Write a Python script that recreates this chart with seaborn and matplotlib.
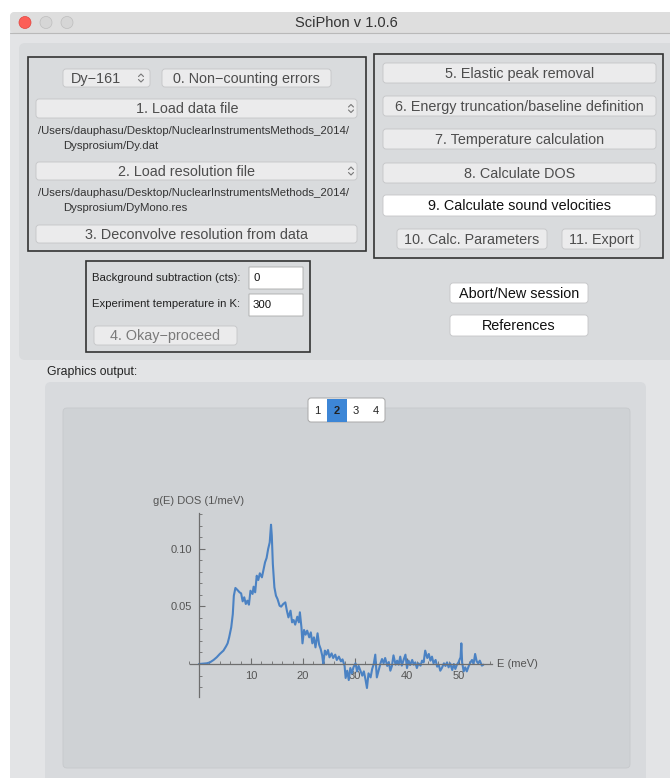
import matplotlib.pyplot as plt
from matplotlib.patches import FancyBboxPatch, Circle
from matplotlib.ticker import MultipleLocator
import seaborn as sns

# ---------------------------------------------------------------
# data (E in meV, g(E) in 1/meV)
# ---------------------------------------------------------------
energy = [0.0, 1.5, 2.1, 2.8, 3.4, 4.0, 4.7, 5.2, 5.5, 5.8,
          6.2, 6.5, 6.7, 7.0, 7.4, 7.8, 8.1, 8.4, 8.7, 9.0,
          9.3, 9.6, 9.9, 10.3, 10.5, 10.8, 11.1, 11.4, 11.7, 12.1,
          12.4, 12.7, 13.0, 13.3, 13.6, 13.85, 14.0, 14.2, 14.5, 14.8,
          15.1, 15.5, 15.8, 16.2, 16.6, 16.9, 17.2, 17.6, 17.9, 18.2,
          18.5, 18.9, 19.2, 19.4, 19.7, 19.9, 20.2, 20.5, 20.8, 21.2,
          21.5, 21.8, 22.1, 22.4, 22.8, 23.1, 23.4, 23.7, 23.9, 24.2,
          24.5, 24.8, 25.1, 25.5, 25.8, 26.2, 26.5, 26.9, 27.3, 27.6,
          28.0, 28.2, 28.5, 28.8, 29.1, 29.4, 29.7, 30.1, 30.4, 30.7,
          31.0, 31.4, 31.7, 32.0, 32.3, 32.6, 33.0, 33.3, 33.6, 33.9,
          34.2, 34.6, 34.9, 35.2, 35.5, 35.8, 36.2, 36.5, 36.8, 37.1,
          37.4, 37.8, 38.1, 38.4, 38.7, 39.0, 39.4, 39.7, 40.0, 40.3,
          40.6, 41.0, 41.3, 41.6, 41.9, 42.2, 42.6, 42.9, 43.2, 43.5,
          43.9, 44.2, 44.5, 44.8, 45.1, 45.5, 45.8, 46.1, 46.4, 46.7,
          47.1, 47.4, 47.7, 48.0, 48.3, 48.7, 49.0, 49.3, 49.6, 49.9,
          50.3, 50.45, 50.6, 50.9, 51.2, 51.5, 51.9, 52.2, 52.5, 52.8,
          53.1, 53.4, 53.7, 54.0, 54.4, 54.7]
dos = [0.0, 0.0006, 0.0014, 0.0035, 0.0058, 0.0087, 0.0116, 0.0153, 0.0179, 0.0231,
       0.0318, 0.0433, 0.0592, 0.0659, 0.0641, 0.0621, 0.0612, 0.0543, 0.0578, 0.0520,
       0.0549, 0.0514, 0.0635, 0.0607, 0.0670, 0.0621, 0.0765, 0.0728, 0.0786, 0.0751,
       0.0815, 0.0881, 0.0919, 0.0997, 0.1054, 0.1207, 0.1112, 0.0867, 0.0664, 0.0592,
       0.0563, 0.0505, 0.0497, 0.0520, 0.0534, 0.0462, 0.0404, 0.0462, 0.0361, 0.0381,
       0.0341, 0.0410, 0.0361, 0.0448, 0.0318, 0.0179, 0.0295, 0.0254, 0.0289, 0.0231,
       0.0274, 0.0179, 0.0231, 0.0144, 0.0266, 0.0168, 0.0130, 0.0072, 0.0, 0.0116,
       0.0081, 0.0121, 0.0058, 0.0092, 0.0052, 0.0081, 0.0035, 0.0064, 0.0023, 0.0040,
       -0.0017, -0.0121, -0.0058, -0.0139, -0.0035, -0.0081, -0.0029, 0.0006, -0.0064, -0.0017,
       -0.0052, -0.0101, -0.0064, -0.0130, -0.0208, -0.0081, -0.0116, -0.0043, 0.0, 0.0081,
       -0.0116, -0.0046, 0.0006, 0.0043, 0.0006, 0.0052, -0.0017, 0.0017, -0.0058, -0.0017,
       0.0075, -0.0006, 0.0029, -0.0006, 0.0064, -0.0014, 0.0043, 0.0081, -0.0035, 0.0029,
       -0.0009, 0.0035, -0.0006, 0.0014, -0.0035, 0.0006, -0.0014, 0.0029, 0.0014, 0.0116,
       0.0052, 0.0087, 0.0029, 0.0064, 0.0006, 0.0035, -0.0023, -0.0006, -0.0058, -0.0035,
       0.0006, -0.0017, 0.0014, -0.0029, 0.0006, -0.0052, 0.0, -0.0043, -0.0006, 0.0014,
       0.0058, 0.0179, 0.0014, -0.0064, -0.0029, -0.0064, -0.0014, 0.0014, 0.0035, 0.0,
       0.0087, 0.0023, 0.0006, 0.0029, -0.0014, -0.0006]

x_ticks = [10, 20, 30, 40, 50]
y_ticks = [0.05, 0.10]
y_tick_labels = ["0.05", "0.10"]
tab_labels = ["1", "2", "3", "4"]

left_buttons = ["0. Non\u2212counting errors", "1. Load data file", "2. Load resolution file",
                "3. Deconvolve resolution from data"]
right_buttons = ["5. Elastic peak removal", "6. Energy truncation/baseline definition",
                 "7. Temperature calculation", "8. Calculate DOS", "9. Calculate sound velocities"]
path_root = "/Users/dauphasu/Desktop/NuclearInstrumentsMethods_2014/"
data_file = "Dysprosium/Dy.dat"
res_file = "Dysprosium/DyMono.res"

# ---------------------------------------------------------------
# style
# ---------------------------------------------------------------
W, H = 670, 778
sns.set_theme(style="white")
plt.rcParams["font.family"] = ["Liberation Sans", "DejaVu Sans"]

fig = plt.figure(figsize=(W / 100, H / 100), dpi=100)
fig.patch.set_facecolor("white")

# background axes in pixel units, y pointing down
bg = fig.add_axes([0, 0, 1, 1])
bg.set_xlim(0, W)
bg.set_ylim(H, 0)
bg.axis("off")

BTN = "#ebebec"
BTN_EDGE = "#c4c5c7"
TXT = "#4d4d4d"
BTN_SIZE = 10.4
SMALL = 8.2


def rbox(x0, y0, x1, y1, fc, ec="none", lw=0.8, r=3, z=1):
    bg.add_patch(FancyBboxPatch((x0, y0), x1 - x0, y1 - y0,
                                boxstyle=f"round,pad=0,rounding_size={r}",
                                fc=fc, ec=ec, lw=lw, zorder=z))


def button(x0, y0, x1, y1, label, fc=BTN, color=TXT, cx=None, size=BTN_SIZE):
    rbox(x0, y0, x1, y1, fc, ec=BTN_EDGE, lw=0.6, r=3, z=3)
    if cx is None:
        cx = (x0 + x1) / 2
    bg.text(cx, (y0 + y1) / 2 + 0.5, label, ha="center", va="center",
            fontsize=size, color=color, zorder=4)


def chevrons(cx, cy):
    bg.plot([cx - 2.5, cx, cx + 2.5], [cy - 1.5, cy - 4, cy - 1.5], color="#777777", lw=0.8, zorder=4)
    bg.plot([cx - 2.5, cx, cx + 2.5], [cy + 1.5, cy + 4, cy + 1.5], color="#777777", lw=0.8, zorder=4)


# window + title bar
rbox(10, 12, 700, 800, "#e3e4e6", r=5, z=0)
rbox(10, 12, 700, 33, "#dedede", r=5, z=1)
bg.plot([10, 700], [33, 33], color="#b9b9b9", lw=0.8, zorder=2)
bg.text(346, 22.5, "SciPhon v 1.0.6", ha="center", va="center", fontsize=10.5, color="#333333", zorder=3)
bg.add_patch(Circle((25, 22.5), 6, fc="#fc5f57", ec="#e0443e", lw=0.5, zorder=3))
bg.add_patch(Circle((46, 22.5), 6, fc="#d6d6d6", ec="#bdbdbd", lw=0.5, zorder=3))
bg.add_patch(Circle((67, 22.5), 6, fc="#d6d6d6", ec="#bdbdbd", lw=0.5, zorder=3))

# upper control panel
rbox(19, 43, 700, 360, "#d9dbdd", r=6, z=1)
rbox(28, 57, 366, 251, "none", ec="#333333", lw=1.2, r=0, z=2)
rbox(374, 54, 663, 258, "none", ec="#333333", lw=1.2, r=0, z=2)
rbox(86, 261, 310, 352, "none", ec="#333333", lw=1.2, r=0, z=2)

# left box
button(63, 69, 150, 87, "Dy\u2212161", cx=96)
chevrons(141, 78)
button(162, 69, 331, 87, left_buttons[0])
button(36, 99, 357, 118, left_buttons[1], cx=187)
chevrons(351, 108.5)
bg.text(38, 131, path_root, ha="left", va="center", fontsize=SMALL, color="#333333", zorder=4)
bg.text(63, 146, data_file, ha="left", va="center", fontsize=SMALL, color="#333333", zorder=4)
button(36, 162, 357, 180, left_buttons[2], cx=186)
chevrons(351, 171)
bg.text(38, 193, path_root, ha="left", va="center", fontsize=SMALL, color="#333333", zorder=4)
bg.text(63, 208, res_file, ha="left", va="center", fontsize=SMALL, color="#333333", zorder=4)
button(36, 225, 357, 243, left_buttons[3])

# right box
rows = [(63, 83), (96, 116), (129, 149), (163, 183)]
for (y0, y1), label in zip(rows, right_buttons[:4]):
    button(383, y0, 656, y1, label)
button(383, 195, 656, 216, right_buttons[4], fc="white", color="#111111")
button(397, 229, 547, 249, "10. Calc. Parameters")
button(562, 229, 640, 249, "11. Export")

# parameter box
bg.text(92, 278, "Background subtraction (cts):", ha="left", va="center", fontsize=SMALL, color="#222222", zorder=4)
bg.text(92, 304, "Experiment temperature in K:", ha="left", va="center", fontsize=SMALL, color="#222222", zorder=4)
rbox(249, 267, 303, 289, "white", ec="#a9a9a9", lw=0.6, r=0, z=3)
rbox(249, 294, 303, 316, "white", ec="#a9a9a9", lw=0.6, r=0, z=3)
bg.text(253, 278, "0", ha="left", va="center", fontsize=SMALL, color="#111111", zorder=4)
bg.text(253, 305, "300", ha="left", va="center", fontsize=SMALL, color="#111111", zorder=4)
button(94, 326, 237, 345, "4. Okay\u2212proceed", color="#7a7a7a")

button(450, 283, 588, 303, "Abort/New session", fc="white", color="#111111")
button(450, 315, 588, 336, "References", fc="white", color="#111111")

# graphics output area
bg.text(47, 372, "Graphics output:", ha="left", va="center", fontsize=8.8, color="#222222", zorder=4)
rbox(45, 382, 646, 790, "#d8dadd", r=6, z=1)
rbox(63, 408, 630, 768, "#cfd2d5", ec="#c6c9cc", lw=0.6, r=4, z=2)

# tab selector 1 2 3 4
rbox(308, 398, 385, 422, "white", ec="#a8a8a8", lw=0.7, r=3, z=3)
for i, lab in enumerate(tab_labels):
    x0 = 308 + i * 19.25
    if lab == "2":
        bg.add_patch(FancyBboxPatch((x0, 398.5), 19.25, 23, boxstyle="square,pad=0",
                                    fc="#3d86d6", ec="none", zorder=4))
    bg.text(x0 + 9.6, 410.5, lab, ha="center", va="center", fontsize=8,
            color="#222222", fontweight="bold" if lab == "2" else "normal", zorder=5)

# ---------------------------------------------------------------
# DOS plot, Mathematica style axes through the origin
# pixel mapping: px = 199 + 5.2*E ; py = 664 - 1154*g
# ---------------------------------------------------------------
xlim = (-2.0, 56.5)
ylim = (-0.029, 0.131)
px0, sx = 199.0, 5.2
py0, sy = 664.0, 1154.0
left = px0 + sx * xlim[0]
right = px0 + sx * xlim[1]
top = py0 - sy * ylim[1]
bottom = py0 - sy * ylim[0]
ax = fig.add_axes([left / W, 1 - bottom / H, (right - left) / W, (bottom - top) / H])
ax.patch.set_alpha(0)

sns.lineplot(x=energy, y=dos, ax=ax, color="#4b82c3", linewidth=1.5)

ax.set_xlim(*xlim)
ax.set_ylim(*ylim)
for side in ["top", "right"]:
    ax.spines[side].set_visible(False)
ax.spines["left"].set_position(("data", 0))
ax.spines["bottom"].set_position(("data", 0))
ax.spines["bottom"].set_bounds(-1.8, 56.3)
ax.spines["left"].set_bounds(-0.0285, 0.1305)
for side in ["left", "bottom"]:
    ax.spines[side].set_color("#6e6e6e")
    ax.spines[side].set_linewidth(0.9)

ax.set_xticks(x_ticks)
ax.set_xticklabels([str(t) for t in x_ticks])
ax.set_yticks(y_ticks)
ax.set_yticklabels(y_tick_labels)
ax.xaxis.set_minor_locator(MultipleLocator(2))
ax.yaxis.set_minor_locator(MultipleLocator(0.01))
ax.tick_params(which="both", bottom=True, left=True, top=False, right=False)
ax.tick_params(which="major", direction="in", length=4.5, width=0.8, color="#6e6e6e",
               labelsize=8, labelcolor="#555555", pad=5)
ax.tick_params(which="minor", direction="in", length=2.5, width=0.6, color="#6e6e6e")
ax.set_xlabel("")
ax.set_ylabel("")

bg.text(153, 501, "g(E) DOS (1/meV)", ha="left", va="center", fontsize=8, color="#555555", zorder=5)
bg.text(497, 664, "E (meV)", ha="left", va="center", fontsize=8, color="#555555", zorder=5)

fig.savefig("out.png", dpi=100)
plt.close(fig)
